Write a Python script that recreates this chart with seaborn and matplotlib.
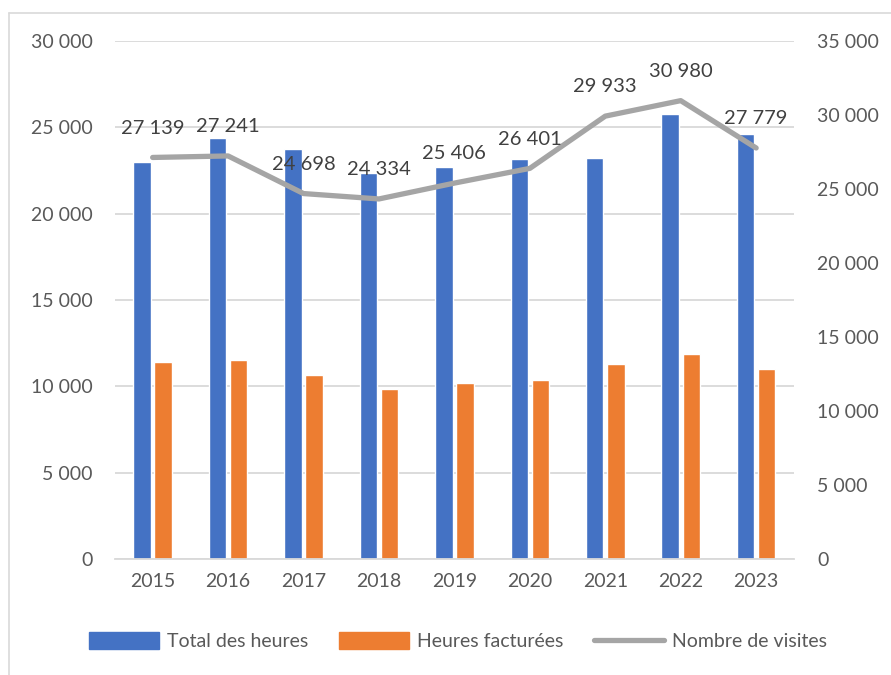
import numpy as np
import pandas as pd
import seaborn as sns
import matplotlib.pyplot as plt
from matplotlib.patches import Patch
from matplotlib.lines import Line2D
from matplotlib.ticker import FuncFormatter

years = ["2015", "2016", "2017", "2018", "2019", "2020", "2021", "2022", "2023"]
total_heures = [23020, 24410, 23740, 22350, 22720, 23160, 23220, 25760, 24640]
heures_facturees = [11390, 11540, 10680, 9830, 10210, 10350, 11310, 11890, 11020]
visites = [27139, 27241, 24698, 24334, 25406, 26401, 29933, 30980, 27779]

series_names = ["Total des heures", "Heures facturées", "Nombre de visites"]
colors = ["#4472C4", "#ED7D31", "#A5A5A5"]

sns.set_theme(style="white")
plt.rcParams['font.family'] = ['Lato', 'DejaVu Sans']

df = pd.DataFrame({
    "annee": years * 2,
    "valeur": total_heures + heures_facturees,
    "serie": [series_names[0]] * len(years) + [series_names[1]] * len(years),
})

fig = plt.figure(figsize=(8.91, 6.75), dpi=100)
ax = fig.add_axes([0.129, 0.172, 0.762, 0.767])

sns.barplot(data=df, x="annee", y="valeur", hue="serie", ax=ax,
            palette=colors[:2], width=0.56, gap=0.17, legend=False, saturation=1)

fmt = FuncFormatter(lambda v, p: f"{int(v):,}".replace(",", " "))

ax.set_ylim(0, 30000)
ax.set_yticks(range(0, 30001, 5000))
ax.yaxis.set_major_formatter(fmt)
ax.set_xlim(-0.5, len(years) - 0.5)
ax.grid(axis="y", color="#D9D9D9", linewidth=1.3)
ax.set_axisbelow(True)
for s in ["top", "right", "left"]:
    ax.spines[s].set_visible(False)
ax.spines["bottom"].set_color("#D9D9D9")
ax.spines["bottom"].set_linewidth(1.3)
ax.set_xlabel("")
ax.set_ylabel("")
ax.tick_params(axis="y", length=0, labelsize=14, colors="#595959", pad=16)
ax.tick_params(axis="x", length=0, labelsize=14, colors="#595959", pad=10)

ax2 = ax.twinx()
x_pos = np.arange(len(years))
sns.lineplot(x=x_pos, y=visites, ax=ax2, color=colors[2], linewidth=3.8)
ax2.set_ylim(0, 35000)
ax2.set_yticks(range(0, 35001, 5000))
ax2.yaxis.set_major_formatter(fmt)
for s in ["top", "right", "left", "bottom"]:
    ax2.spines[s].set_visible(False)
ax2.tick_params(axis="y", length=0, labelsize=14, colors="#595959", pad=17)
ax2.set_xlim(-0.5, len(years) - 0.5)

for xi, v in zip(x_pos, visites):
    ax2.annotate(f"{v:,}".replace(",", " "), (xi, v), xytext=(0, 15),
                 textcoords="offset points", ha="center", va="bottom",
                 fontsize=14.5, color="#404040")

handles = [Patch(color=colors[0]), Patch(color=colors[1]),
           Line2D([0], [0], color=colors[2], linewidth=3.8)]
fig.legend(handles, series_names, loc="center", bbox_to_anchor=(0.514, 0.05),
           ncol=3, frameon=False, fontsize=14, labelcolor="#595959",
           handlelength=3.6, handleheight=1.0, columnspacing=1.6, handletextpad=0.4)

fig.add_artist(Line2D([9 / 891, 1], [1 - 13 / 675, 1 - 13 / 675],
                      transform=fig.transFigure, color="#D9D9D9", linewidth=1.2))
fig.add_artist(Line2D([9 / 891, 9 / 891], [0, 1 - 13 / 675],
                      transform=fig.transFigure, color="#D9D9D9", linewidth=1.2))

fig.savefig("out.png", dpi=100)
